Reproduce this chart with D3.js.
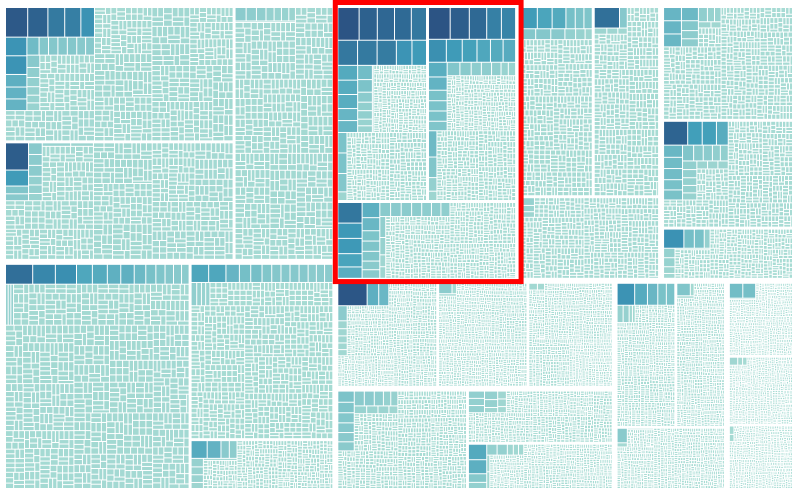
<!DOCTYPE html>
<html><head><meta charset="utf-8">
<script src="https://cdn.jsdelivr.net/npm/d3@7"></script>
<style>html,body{margin:0;padding:0;background:#fff;overflow:hidden}</style>
</head><body>
<svg id="chart" width="800" height="494"></svg>
<script>
// ---- structure: 9 top-level groups, each with 3 blocks ----
const groupNames = ["g1","g2","g3","g4","g5","g6","g7","g8","g9"];
const blockNames = [["A","B","C"],["D","E","F"],["G1","G2","G3"],["H1","H2","H3"],["I1","I2","I3"],["J1","J2","J3"],["J4","J5","J6"],["K1","K2","K3"],["K4","K5","K6"]];
const highlightGroup = "g3";
// blocks whose prominent cells sit directly in the block (no sub-group)
const flatBlocks = ["D","E","H1","K1"];
// typical number of sibling cells seen in the small clusters
const bundleSizes = [5,3,6,4,7,2,5,4,3,6];

// ---- per block: prominent leaf values, and fine cells as [count, value] ----
const leadA = [660,600,405,500,480,400,400,270,255,250,220,170,170,170,170,160,160,160,130,120,110,100,100];
const fineA = [[76,40],[60,45],[70,38],[50,50],[60,42],[40,55],[70,36],[50,44],[60,40],[32,48]];
const leadB = [630,370,180,160,160,150,150,120,117,100,100,80];
const fineB = [[70,40],[60,42],[70,38],[50,48],[60,40],[40,52],[70,36],[50,45],[60,40],[50,46]];
const leadC = [150,140,130,110,100,100,90,90];
const fineC = [[75,46],[60,45],[50,42],[70,40],[50,48],[60,44],[40,50],[60,46],[76,40]];
const leadD = [540,450,297,315,230,200,420,160,267,182,168,267,150,110,110,110];
const fineD = [[150,48],[80,50],[70,46],[90,44],[60,52],[80,48],[70,45],[65,50],[60,45],[60,46]];
const leadE = [320,315,168,207,177,165,245,165,165,150,206,132,110,150,100,100,150];
const fineE = [[90,32],[80,30],[70,32],[90,28],[60,34],[80,31],[70,30],[90,29],[80,32]];
const leadF = [295,100,109,77,153,253,98,142,72];
const fineF = [[70,14],[80,14],[70,13],[90,15],[60,12],[50,13]];
const leadG1 = [606,560,284,299,710,574,240,243,493,290,189,500,372,506,506,400,214,128,150,127,100,100,100];
const fineG1 = [[300,12],[1,192],[1,192],[1,172],[1,81],[100,16],[90,15],[80,18],[70,16]];
const leadG2 = [620,372,564,476,315,252,140,140,130,195,195,100,100,345,296,417,292,702,181,155,175,280,460,200];
const fineG2 = [[320,12],[1,226],[1,177],[1,117],[1,80],[100,16],[90,15],[80,17],[80,16]];
const leadG3 = [237,127,105,72,155,130,512,330,380,157,70,380,152,282,177,275,155,145,140,150,186,136,187];
const fineG3 = [[290,14],[100,14],[90,15],[80,13],[100,13]];
const leadH1 = [366,302,204,190,324,169,106,80,158,182,169,120];
const fineH1 = [[90,24],[80,25],[70,26],[90,24],[60,27],[70,25]];
const leadH2 = [536,165,80,70,60];
const fineH2 = [[50,24],[80,25],[90,24],[70,26],[90,25],[80,27]];
const leadH3 = [110,90,80];
const fineH3 = [[50,20],[100,20],[90,22],[110,19],[100,21],[100,20]];
const leadI1 = [237,243,96,142,132,104,242,141,80,172,230,64];
const fineI1 = [[20,22],[100,22],[90,23],[110,21],[80,24],[100,22],[80,22]];
const leadI2 = [590,348,355,289,196,217,237,149,129,113,199,180,219,127,128,88,156,120,85,85,110,104];
const fineI2 = [[50,20],[90,20],[100,19],[80,21],[90,20],[80,20]];
const leadI3 = [209,114,407,199,117,56,58,108,80];
const fineI3 = [[70,15],[100,14],[90,15],[100,15]];
const leadJ1 = [683,235,147,270,69,77,70,65,60];
const fineJ1 = [[240,9],[200,9],[180,10],[220,8],[150,9]];
const leadJ2 = [145,50,45];
const fineJ2 = [[100,8],[250,8],[230,9],[260,8],[280,8]];
const leadJ3 = [60,50];
const fineJ3 = [[100,8],[250,8],[240,8],[220,9],[300,7]];
const leadJ4 = [172,154,154,165,109,140,88,158,113,153,179,190,91,72,100];
const fineJ4 = [[120,14],[180,13],[160,14],[200,12],[175,13]];
const leadJ5 = [123,118,121,121,110,70,72,72,56];
const fineJ5 = [[60,10],[200,10],[180,9],[150,11],[100,10]];
const leadJ6 = [300,167,119,118,54,54,272,60,60,119,69];
const fineJ6 = [[150,8],[150,8],[140,9],[150,8],[60,8]];
const leadK1 = [238,197,405,294,195,109,110,60,50];
const fineK1 = [[80,9],[200,9],[180,8],[160,10],[160,9]];
const leadK2 = [179,50,45];
const fineK2 = [[80,8],[200,8],[190,9],[180,8],[190,8]];
const leadK3 = [157,45,40];
const fineK3 = [[60,8],[200,8],[180,8],[190,8],[190,8]];
const leadK4 = [216,207,40];
const fineK4 = [[80,6],[220,6],[200,6],[240,6]];
const leadK5 = [72,42,38];
const fineK5 = [[60,6],[220,6],[230,6],[225,6]];
const leadK6 = [42,36];
const fineK6 = [[60,6],[220,6],[210,6],[210,6]];

const leads = {A:leadA,B:leadB,C:leadC,D:leadD,E:leadE,F:leadF,G1:leadG1,G2:leadG2,G3:leadG3,H1:leadH1,H2:leadH2,H3:leadH3,I1:leadI1,I2:leadI2,I3:leadI3,J1:leadJ1,J2:leadJ2,J3:leadJ3,J4:leadJ4,J5:leadJ5,J6:leadJ6,K1:leadK1,K2:leadK2,K3:leadK3,K4:leadK4,K5:leadK5,K6:leadK6};
const fines = {A:fineA,B:fineB,C:fineC,D:fineD,E:fineE,F:fineF,G1:fineG1,G2:fineG2,G3:fineG3,H1:fineH1,H2:fineH2,H3:fineH3,I1:fineI1,I2:fineI2,I3:fineI3,J1:fineJ1,J2:fineJ2,J3:fineJ3,J4:fineJ4,J5:fineJ5,J6:fineJ6,K1:fineK1,K2:fineK2,K3:fineK3,K4:fineK4,K5:fineK5,K6:fineK6};

// ---- styling ----
const colorDomain = [0,10,40,80,120,160,200,250,300,350,400,500,560,620,700];
const colorRange = ["#a9dcd4","#a8dcd4","#a5dad3","#9dd5d0","#93d0cf","#88c9cc","#78c1c8","#64b3c3","#54aabe","#42a0ba","#3c94b5","#347aa0","#2f6a95","#2d5e8c","#2c5484"];
const color = d3.scaleLinear().domain(colorDomain).range(colorRange).clamp(true);

let bundleIdx = 0;
function cluster(block, pair, j) {
  const [n, v] = pair;
  const id = block + "-c" + j;
  if (n <= 2) return {name: id, children: d3.range(n).map(k => ({name: id + "-" + k, value: v}))};
  const bundles = [];
  let left = n, b = 0;
  while (left > 0) {
    const s = Math.min(left, bundleSizes[bundleIdx++ % bundleSizes.length]);
    bundles.push({name: id + "-b" + b, children: d3.range(s).map(k => ({name: id + "-b" + b + "-" + k, value: v}))});
    left -= s; b++;
  }
  return {name: id, children: bundles};
}
function buildBlock(name) {
  const lead = leads[name].slice().sort((a, b) => b - a).map((v, i) => ({name: name + "-L" + i, value: v}));
  const f = fines[name];
  if (flatBlocks.includes(name)) {
    return {name, children: [...lead, ...f.map((p, j) => cluster(name, p, j))]};
  }
  return {
    name,
    children: [{name: name + "-lead", children: [...lead, cluster(name, f[0], 0)]},
               ...f.slice(1).map((p, j) => cluster(name, p, j + 1))]
  };
}
const data = {name: "root", children: groupNames.map((g, i) => ({name: g, children: blockNames[i].map(buildBlock)}))};

const W = 786, H = 480, X0 = 6, Y0 = 8;
const root = d3.hierarchy(data).sum(d => d.children ? 0 : d.value);
d3.treemap()
  .tile(d3.treemapSquarify)
  .size([W, H])
  .paddingInner(d => d.depth === 0 ? 6 : d.depth === 1 ? 3 : 1)(root);

const svg = d3.select("#chart");
const g = svg.append("g").attr("transform", `translate(${X0},${Y0})`);
g.selectAll("rect.cell")
  .data(root.leaves())
  .join("rect")
  .attr("class", "cell")
  .attr("x", d => d.x0)
  .attr("y", d => d.y0)
  .attr("width", d => Math.max(0, d.x1 - d.x0))
  .attr("height", d => Math.max(0, d.y1 - d.y0))
  .attr("fill", d => color(d.value));

const hg = root.children.find(d => d.data.name === highlightGroup);
g.append("rect")
  .attr("x", hg.x0 - 3)
  .attr("y", hg.y0 - 5.5)
  .attr("width", hg.x1 - hg.x0 + 9)
  .attr("height", hg.y1 - hg.y0 + 9.3)
  .attr("fill", "none")
  .attr("stroke", "#ff0000")
  .attr("stroke-width", 5);
</script>
</body></html>
